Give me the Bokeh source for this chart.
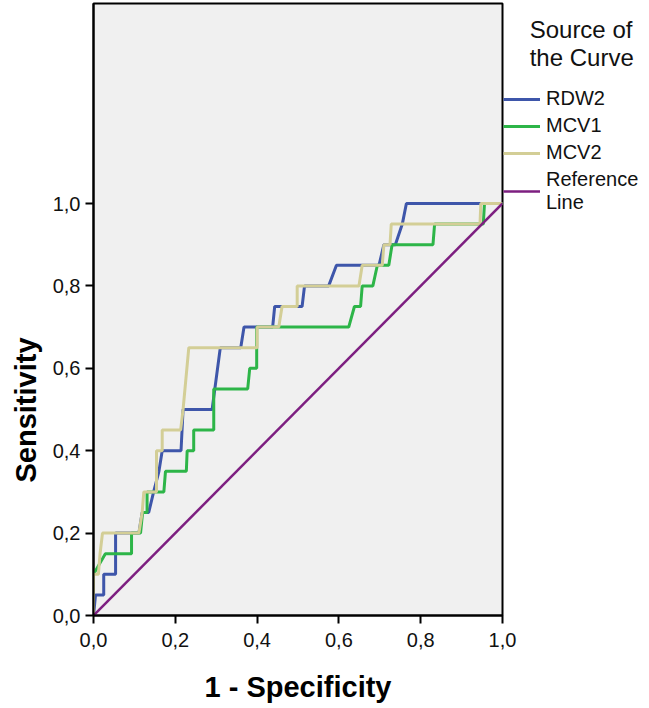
from bokeh.plotting import figure
from bokeh.models import (FixedTicker, CustomJSTickFormatter, Legend, LegendItem,
                          Range1d, Title)
from bokeh.embed import file_html
from bokeh.resources import INLINE

# ---- data ----
rdw2_x = [0.0, 0.005, 0.025, 0.025, 0.054, 0.054, 0.111, 0.119, 0.135, 0.147, 0.160,
          0.168, 0.214, 0.219, 0.290, 0.310, 0.360, 0.368, 0.438, 0.443, 0.510, 0.516,
          0.575, 0.594, 0.698, 0.710, 0.738, 0.755, 0.765, 1.0]
rdw2_y = [0.0, 0.05, 0.05, 0.10, 0.10, 0.20, 0.20, 0.25, 0.25, 0.30, 0.35,
          0.40, 0.40, 0.50, 0.50, 0.65, 0.65, 0.70, 0.70, 0.75, 0.75, 0.80,
          0.80, 0.85, 0.85, 0.90, 0.90, 0.95, 1.0, 1.0]

mcv1_x = [0.0, 0.0, 0.029, 0.093, 0.093, 0.115, 0.120, 0.131, 0.131, 0.172, 0.176,
          0.227, 0.229, 0.245, 0.245, 0.294, 0.294, 0.377, 0.382, 0.399, 0.399,
          0.624, 0.638, 0.653, 0.657, 0.683, 0.694, 0.722, 0.730, 0.830, 0.834,
          0.953, 0.956, 1.0]
mcv1_y = [0.0, 0.10, 0.15, 0.15, 0.20, 0.20, 0.25, 0.25, 0.30, 0.30, 0.35,
          0.35, 0.40, 0.40, 0.45, 0.45, 0.55, 0.55, 0.60, 0.60, 0.70,
          0.70, 0.75, 0.75, 0.80, 0.80, 0.85, 0.85, 0.90, 0.90, 0.95,
          0.95, 1.0, 1.0]

mcv2_x = [0.0, 0.0, 0.012, 0.016, 0.022, 0.111, 0.119, 0.123, 0.154, 0.154, 0.168,
          0.168, 0.213, 0.219, 0.233, 0.400, 0.400, 0.453, 0.461, 0.498, 0.498,
          0.649, 0.657, 0.706, 0.710, 0.725, 0.728, 0.945, 0.947, 1.0]
mcv2_y = [0.0, 0.10, 0.10, 0.15, 0.20, 0.20, 0.25, 0.30, 0.30, 0.40, 0.40,
          0.45, 0.45, 0.50, 0.65, 0.65, 0.70, 0.70, 0.75, 0.75, 0.80,
          0.80, 0.85, 0.85, 0.90, 0.90, 0.95, 0.95, 1.0, 1.0]

ref_x = [0.0, 1.0]
ref_y = [0.0, 1.0]

ticks = [0.0, 0.2, 0.4, 0.6, 0.8, 1.0]
series_names = ["RDW2", "MCV1", "MCV2", "Reference\nLine"]
legend_title = "Source of\nthe Curve"
x_label = "1 - Specificity"
y_label = "Sensitivity"
colors = ["#3E56AA", "#2DB548", "#D3CE96", "#7D1F80"]

FONT = "Liberation Sans"
NBSP = "\u00a0" * 4

p = figure(frame_width=409, frame_height=612,
           x_range=Range1d(0, 1), y_range=Range1d(0, 612 / 412),
           output_backend="svg", toolbar_location=None,
           min_border_left=93, min_border_right=147, min_border_top=3,
           min_border_bottom=90,
           background_fill_color="#F0F0F0", border_fill_color="white")

p.xgrid.visible = False
p.ygrid.visible = False
p.outline_line_color = "black"
p.outline_line_width = 2

fmt = CustomJSTickFormatter(code="return tick.toFixed(1).replace('.', ',');")
for ax in (p.xaxis[0], p.yaxis[0]):
    ax.ticker = FixedTicker(ticks=ticks)
    ax.formatter = fmt
    ax.axis_line_width = 2
    ax.axis_line_color = "black"
    ax.major_tick_line_width = 2
    ax.major_tick_line_color = "black"
    ax.major_tick_out = 8
    ax.major_tick_in = 0
    ax.minor_tick_line_color = None
    ax.major_label_text_font = FONT
    ax.major_label_text_font_size = "20px"
    ax.major_label_text_color = "#111111"
    ax.axis_label_text_font = FONT
    ax.axis_label_text_font_style = "bold"
    ax.axis_label_text_font_size = "29px"
    ax.axis_label_text_color = "black"

p.xaxis.axis_label = x_label
p.xaxis.major_label_standoff = 9
p.xaxis.axis_label_standoff = 21
p.yaxis.major_label_standoff = 5

# y label centred on the 0..1 part of the axis, as in the reference
ytitle = Title(text=y_label, align="left", offset=133,
               text_font=FONT, text_font_size="29px", text_font_style="bold",
               text_color="black", standoff=15)
p.add_layout(ytitle, "left")

r1 = p.line(rdw2_x, rdw2_y, line_color=colors[0], line_width=3)
r2 = p.line(mcv1_x, mcv1_y, line_color=colors[1], line_width=3)
r3 = p.line(mcv2_x, mcv2_y, line_color=colors[2], line_width=3)
r4 = p.line(ref_x, ref_y, line_color=colors[3], line_width=2.5)

items = [LegendItem(label=n, renderers=[r]) for n, r in zip(series_names, [r1, r2, r3, r4])]
title_text = "\n".join(NBSP + line for line in legend_title.split("\n"))
legend = Legend(items=items, location=(1, 401),
                title=title_text,
                title_text_font=FONT, title_text_font_size="24px",
                title_text_font_style="normal", title_text_color="#111111",
                title_text_line_height=1.17, title_standoff=15,
                label_text_font=FONT, label_text_font_size="20px",
                label_text_color="#111111",
                label_height=20, glyph_height=20, glyph_width=37,
                label_standoff=6, spacing=4, padding=0, margin=0,
                border_line_alpha=0, background_fill_alpha=0)
p.add_layout(legend, "right")

open("out.html", "w").write(file_html(p, INLINE))
